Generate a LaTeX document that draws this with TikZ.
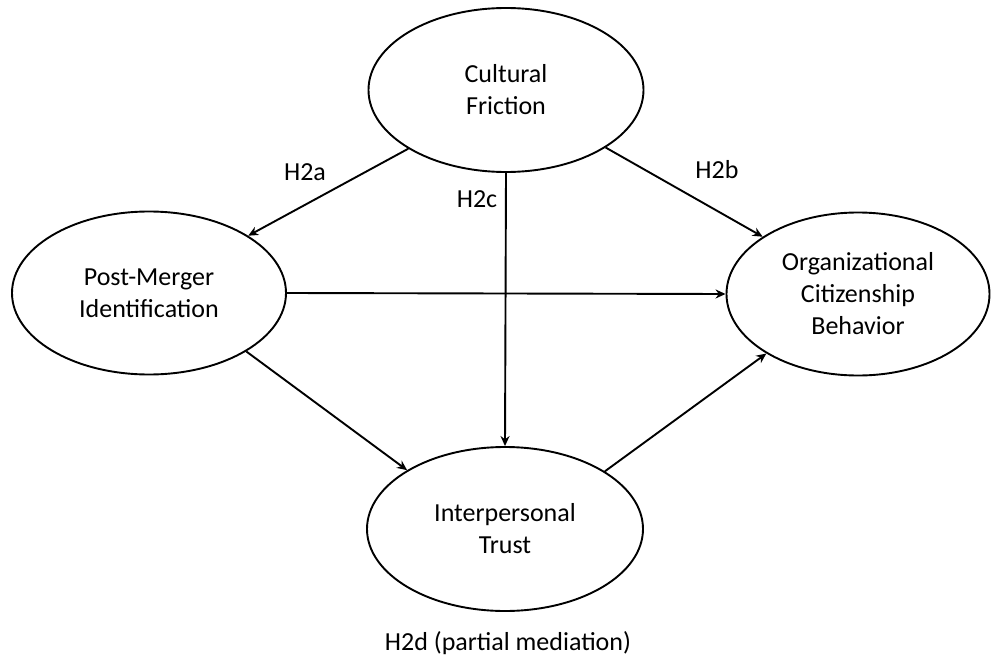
\documentclass[tikz,border=0pt]{standalone}
\usepackage{fontspec}
\setmainfont{Carlito}
\usetikzlibrary{shapes.geometric,arrows.meta}
\begin{document}
\begin{tikzpicture}[x=1pt,y=-1pt,
  construct/.style={ellipse,draw,line width=1.9pt,inner sep=0pt,align=center,
    font=\fontsize{26}{32}\selectfont},
  path/.style={line width=1.9pt,-{Stealth[length=10pt,width=9pt]}},
  lbl/.style={font=\fontsize{26}{32}\selectfont,inner sep=0pt}]
\useasboundingbox (0,0) rectangle (991,661);
\node[construct,minimum width=275pt,minimum height=164pt] (cf) at (506,90) {Cultural\\Friction};
\node[construct,minimum width=274pt,minimum height=163pt] (pm) at (149,293) {Post-Merger\\Identification};
\node[construct,minimum width=263pt,minimum height=163pt] (ocb) at (858,294) {Organizational\\Citizenship\\Behavior};
\node[construct,minimum width=276pt,minimum height=164pt] (tr) at (505,529) {Interpersonal\\Trust};
\draw[path] (cf.211.5) -- (pm.30.4);
\draw[path] (cf.-30.9) -- (ocb.149);
\draw[path] (cf.south) -- (tr.north);
\draw[path] (pm.east) -- (ocb.west);
\draw[path] (pm.-31) -- (tr.149);
\draw[path] (tr.30.5) -- (ocb.-147.6);
\node[lbl] (h2a) at (305,172) {H2a};
\node[lbl] (h2b) at (717,170) {H2b};
\node[lbl] (h2c) at (477,199) {H2c};
\node[lbl] (h2d) at (508,643) {H2d (partial mediation)};
\end{tikzpicture}
\end{document}
